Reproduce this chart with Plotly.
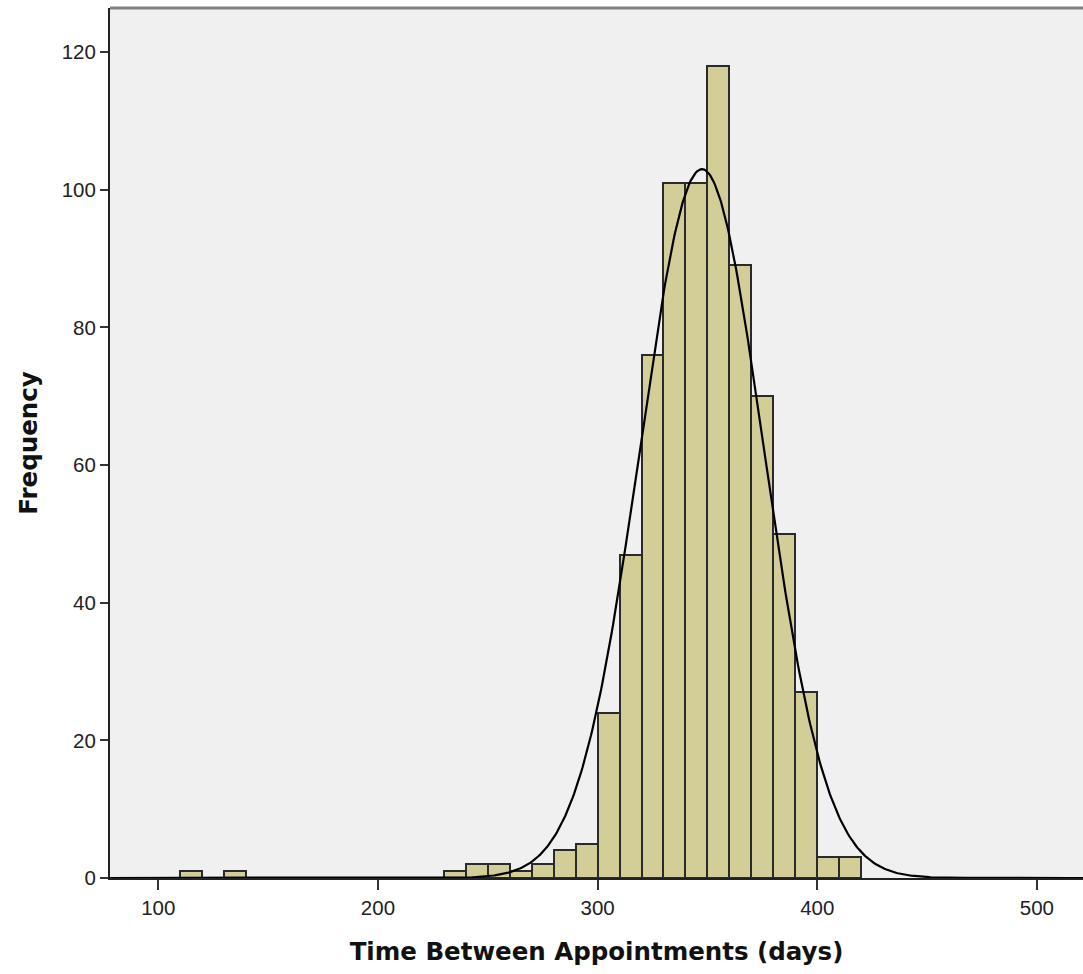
import numpy as np
import plotly.graph_objects as go

# Histogram bins (lower edges, width 10 days) and frequencies
bin_starts = [110, 130, 230, 240, 250, 260, 270, 280, 290, 300, 310, 320, 330,
              340, 350, 360, 370, 380, 390, 400, 410]
frequencies = [1, 1, 1, 2, 2, 1, 2, 4, 5, 24, 47, 76, 101, 101, 118, 89, 70,
               50, 27, 3, 3]
bin_width = 10

# Fitted normal curve parameters (as drawn by the chart)
curve_mean = 347.5
curve_sd = 28.2
n_total = sum(frequencies)

x_ticks = [100, 200, 300, 400, 500]
y_ticks = [0, 20, 40, 60, 80, 100, 120]

bar_centers = [s + bin_width / 2 for s in bin_starts]

xc = np.linspace(78, 521, 800)
yc = n_total * bin_width / (curve_sd * np.sqrt(2 * np.pi)) * np.exp(-0.5 * ((xc - curve_mean) / curve_sd) ** 2)

fig = go.Figure()
fig.add_trace(go.Bar(
    x=bar_centers, y=frequencies, width=bin_width,
    marker=dict(color="#D3CE97", line=dict(color="#2a2a2a", width=2)),
    hoverinfo="x+y", showlegend=False,
))
fig.add_trace(go.Scatter(
    x=xc, y=yc, mode="lines", line=dict(color="black", width=2.2),
    hoverinfo="skip", showlegend=False,
))

fig.update_layout(
    width=1083, height=974,
    margin=dict(l=110, r=0, t=8, b=96),
    paper_bgcolor="white", plot_bgcolor="#F0F0F0",
    bargap=0,
    font=dict(family="Liberation Sans, Arial, sans-serif", color="#222222"),
    xaxis=dict(
        range=[78, 521], tickvals=x_ticks, ticks="outside", ticklen=10,
        tickwidth=2, tickcolor="#333333", showgrid=False, zeroline=False,
        showline=True, linecolor="#222222", linewidth=2,
        tickfont=dict(size=20.5, color="#222222"),
        title=dict(text="<b>Time Between Appointments (days)</b>",
                   font=dict(family="DejaVu Sans, Verdana, sans-serif", size=24.5, color="#111111"),
                   standoff=25),
    ),
    yaxis=dict(
        range=[0, 126.4], tickvals=y_ticks, ticks="outside", ticklen=8,
        tickwidth=2, tickcolor="#333333", showgrid=False, zeroline=False,
        showline=True, linecolor="#222222", linewidth=2,
        tickfont=dict(size=20.5, color="#222222"),
        title=dict(text="<b>Frequency</b>",
                   font=dict(family="DejaVu Sans, Verdana, sans-serif", size=24.5, color="#111111"),
                   standoff=17),
    ),
    shapes=[dict(type="line", xref="paper", yref="paper", x0=0, x1=1, y0=1, y1=1,
                 line=dict(color="#808080", width=3))],
)

fig.write_html("out.html")
